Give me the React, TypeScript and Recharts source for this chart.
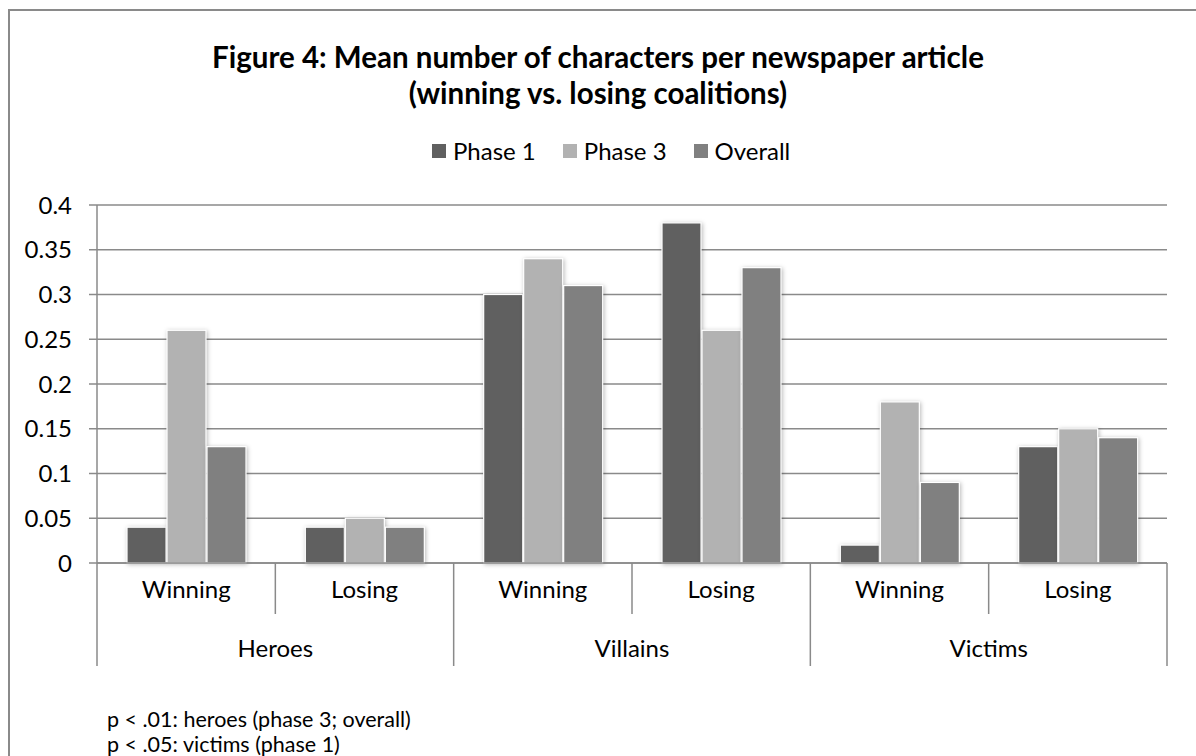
import React from 'react';
import { BarChart, Bar, XAxis, YAxis, CartesianGrid, Legend } from 'recharts';

const subCategories = ['Winning', 'Losing', 'Winning', 'Losing', 'Winning', 'Losing'];
const groups = ['Heroes', 'Heroes', 'Villains', 'Villains', 'Victims', 'Victims'];
const seriesNames = ['Phase 1', 'Phase 3', 'Overall'];
const phase1 = [0.04, 0.04, 0.3, 0.38, 0.02, 0.13];
const phase3 = [0.26, 0.05, 0.34, 0.26, 0.18, 0.15];
const overall = [0.13, 0.04, 0.31, 0.33, 0.09, 0.14];
const yTicks = [0, 0.05, 0.1, 0.15, 0.2, 0.25, 0.3, 0.35, 0.4];
const footnotes = ['p < .01: heroes (phase 3; overall)', 'p < .05: victims (phase 1)'];

const data = subCategories.map((sub, i) => ({
  sub,
  group: groups[i],
  phase1: phase1[i],
  phase3: phase3[i],
  overall: overall[i],
}));

const FONT = 'Lato, "Open Sans", sans-serif';
const LINE = '#8a8a8a';
const PLOT_LEFT = 97;
const PLOT_RIGHT = 1167;
const BAND = (PLOT_RIGHT - PLOT_LEFT) / subCategories.length;
const SUB_H = 51;
const GROUP_H = 52;

const SubTick = (props: any) => {
  const { x, y, payload, index } = props;
  return (
    <g>
      <text x={x} y={y + 35} textAnchor="middle" fontSize={24} fontFamily={FONT} fill="#000">
        {payload.value}
      </text>
      {index % 2 === 0 && (
        <line x1={x + BAND / 2} x2={x + BAND / 2} y1={y} y2={y + SUB_H} stroke={LINE} strokeWidth={1.5} />
      )}
    </g>
  );
};

const GroupTick = (props: any) => {
  const { x, y, payload, index } = props;
  return (
    <g>
      <text x={x} y={y + 43} textAnchor="middle" fontSize={24} fontFamily={FONT} fill="#000">
        {payload.value}
      </text>
      <line x1={x - BAND} x2={x - BAND} y1={y - SUB_H} y2={y + GROUP_H} stroke={LINE} strokeWidth={1.5} />
      {index === 2 && (
        <line x1={x + BAND} x2={x + BAND} y1={y - SUB_H} y2={y + GROUP_H} stroke={LINE} strokeWidth={1.5} />
      )}
    </g>
  );
};

const BarShape = (props: any) => {
  const { x, y, width, height, fill } = props;
  if (!height) return null;
  return (
    <rect
      x={x}
      y={y}
      width={width}
      height={height}
      fill={fill}
      stroke="#ffffff"
      strokeWidth={1.2}
      style={{ filter: 'drop-shadow(1px 1px 2px rgba(0,0,0,0.28))' }}
    />
  );
};

const renderLegend = (props: any) => {
  const items = [...props.payload].sort(
    (a: any, b: any) => seriesNames.indexOf(a.value) - seriesNames.indexOf(b.value)
  );
  return (
    <div style={{ display: 'flex', alignItems: 'center', fontFamily: FONT, fontSize: 24, color: '#000' }}>
      {items.map((p: any) => (
        <div key={p.value} style={{ display: 'flex', alignItems: 'center', marginRight: 27 }}>
          <span style={{ display: 'inline-block', width: 14, height: 14, background: p.color, marginRight: 7 }} />
          <span>{p.value}</span>
        </div>
      ))}
    </div>
  );
};

export default function App() {
  return (
    <div
      style={{
        position: 'absolute',
        left: 0,
        top: 0,
        width: 1196,
        height: 756,
        overflow: 'hidden',
        background: '#fff',
        fontFamily: FONT,
      }}
    >
      <div
        style={{
          position: 'absolute',
          left: 8,
          top: 9,
          width: 1300,
          height: 900,
          border: `2px solid ${LINE}`,
          boxSizing: 'border-box',
        }}
      />
      <div
        style={{
          position: 'absolute',
          left: 0,
          top: 39,
          width: 1196,
          textAlign: 'center',
          fontWeight: 700,
          fontSize: 29.5,
          lineHeight: '36px',
          color: '#000',
        }}
      >
        <div>Figure 4: Mean number of characters per newspaper article</div>
        <div>(winning vs. losing coalitions)</div>
      </div>
      <div style={{ position: 'absolute', left: 0, top: 0 }}>
        <BarChart
          width={1196}
          height={756}
          data={data}
          margin={{ top: 205, right: 1196 - PLOT_RIGHT, bottom: 756 - 563 - SUB_H - GROUP_H, left: 0 }}
          barCategoryGap={30}
          barGap={1}
        >
          <CartesianGrid vertical={false} stroke={LINE} strokeWidth={1.5} />
          <XAxis
            dataKey="sub"
            height={SUB_H}
            tickSize={0}
            tickMargin={0}
            tickLine={false}
            axisLine={{ stroke: LINE, strokeWidth: 1.5 }}
            tick={<SubTick />}
            interval={0}
          />
          <XAxis
            xAxisId="group"
            dataKey="group"
            allowDuplicatedCategory={false}
            height={GROUP_H}
            tickSize={0}
            tickMargin={0}
            tickLine={false}
            axisLine={false}
            tick={<GroupTick />}
            interval={0}
          />
          <YAxis
            width={PLOT_LEFT}
            domain={[0, 0.4]}
            ticks={yTicks}
            tickSize={8}
            tickMargin={17}
            axisLine={{ stroke: LINE, strokeWidth: 1.5 }}
            tickLine={{ stroke: LINE, strokeWidth: 1.5 }}
            tick={{ fill: '#000', fontSize: 24, fontFamily: FONT }}
          />
          <Legend
            layout="horizontal"
            verticalAlign="middle"
            align="center"
            content={renderLegend}
            wrapperStyle={{ top: 136, left: 432, width: 420, height: 32 }}
          />
          <Bar dataKey="phase1" name={seriesNames[0]} fill="#606060" shape={<BarShape />} isAnimationActive={false} />
          <Bar dataKey="phase3" name={seriesNames[1]} fill="#b2b2b2" shape={<BarShape />} isAnimationActive={false} />
          <Bar dataKey="overall" name={seriesNames[2]} fill="#808080" shape={<BarShape />} isAnimationActive={false} />
        </BarChart>
      </div>
      <div
        style={{
          position: 'absolute',
          left: 107,
          top: 707,
          fontSize: 21.5,
          lineHeight: '25px',
          color: '#000',
        }}
      >
        {footnotes.map((f) => (
          <div key={f}>{f}</div>
        ))}
      </div>
    </div>
  );
}
